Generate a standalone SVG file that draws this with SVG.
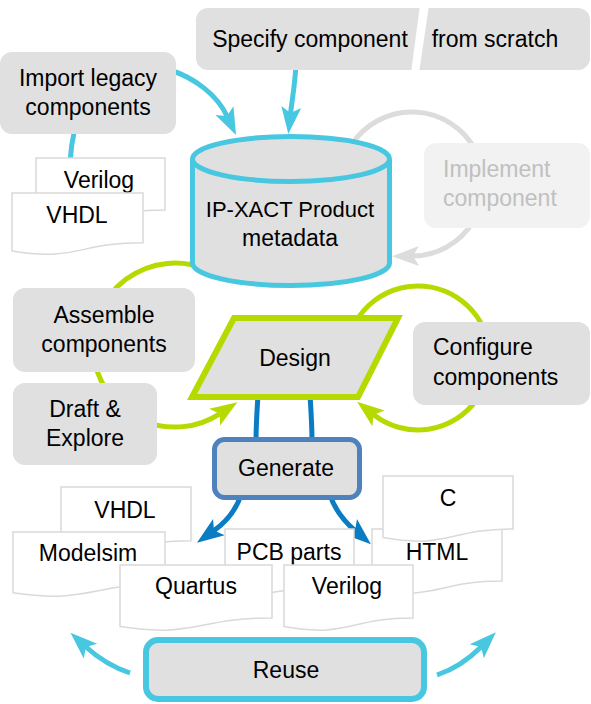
<svg xmlns="http://www.w3.org/2000/svg" width="591" height="704" viewBox="0 0 591 704">
<style>
  text { font-family: "Liberation Sans", Arial, sans-serif; font-size: 23px; fill: #000; }
  .c { text-anchor: middle; }
  .box { fill: #E0E0E0; }
  .doc { fill: #FFFFFF; stroke: #D9D9D9; stroke-width: 1.5; }
  .cyan { fill: none; stroke: #48C7E1; stroke-width: 5; }
  .green { fill: none; stroke: #B5DA00; stroke-width: 5; }
  .gray { fill: none; stroke: #DCDCDC; stroke-width: 5; }
  .blue { fill: none; stroke: #0A7CC3; stroke-width: 5; }
  .faint { fill: #C0C0C0; }
</style>
<defs>
  <marker id="ahCyan" markerUnits="userSpaceOnUse" markerWidth="27" markerHeight="20" refX="6" refY="10" orient="auto" overflow="visible">
    <path d="M0,0 L27,10 L0,20 L6,10 Z" fill="#48C7E1"/>
  </marker>
  <marker id="ahGreen" markerUnits="userSpaceOnUse" markerWidth="27" markerHeight="20" refX="6" refY="10" orient="auto" overflow="visible">
    <path d="M0,0 L27,10 L0,20 L6,10 Z" fill="#B5DA00"/>
  </marker>
  <marker id="ahGray" markerUnits="userSpaceOnUse" markerWidth="27" markerHeight="20" refX="6" refY="10" orient="auto" overflow="visible">
    <path d="M0,0 L27,10 L0,20 L6,10 Z" fill="#DCDCDC"/>
  </marker>
  <marker id="ahBlue" markerUnits="userSpaceOnUse" markerWidth="27" markerHeight="20" refX="6" refY="10" orient="auto" overflow="visible">
    <path d="M0,0 L27,10 L0,20 L6,10 Z" fill="#0A7CC3"/>
  </marker>
</defs>

<g id="connectors">
  <path class="cyan" d="M170,70 C195,78 217,95 227,116" marker-end="url(#ahCyan)"/>
  <path class="cyan" d="M296,64 C295,85 292,100 290.6,113" marker-end="url(#ahCyan)"/>
  <path class="cyan" d="M75,128 Q71,145 70,162"/>
  <path class="gray" d="M352,144 A72,72 0 1 1 413,256" marker-end="url(#ahGray)"/>
  <path class="green" d="M205.7,269 A82,82 0 1 0 219.7,413.8" marker-end="url(#ahGreen)"/>
  <path class="green" d="M355.6,322 A72,72 0 1 1 373.7,414.7" marker-end="url(#ahGreen)"/>
  <path class="blue" d="M258,395 C257,410 256,425 256,442"/>
  <path class="blue" d="M310,395 C311,410 312,425 312,442"/>
  <path class="blue" d="M241,495 C236,510 226,522 214,530.6" marker-end="url(#ahBlue)"/>
  <path class="blue" d="M330,495 C335,510 345,522 355,530.6" marker-end="url(#ahBlue)"/>
  <path class="cyan" d="M130,673 C112,667 97,657 86,647" marker-end="url(#ahCyan)"/>
  <path class="cyan" d="M437,675 C455,669 470,658 481,647" marker-end="url(#ahCyan)"/>
</g>

<g id="specify">
  <rect class="box" x="196" y="8" width="394" height="62" rx="12"/>
  <polygon points="420,5 429,5 419,73 411,73" fill="#FFFFFF"/>
  <text class="c" x="310" y="47">Specify component</text>
  <text class="c" x="495" y="47">from scratch</text>
</g>

<g id="import">
  <rect class="box" x="0" y="52" width="176" height="82" rx="12"/>
  <text class="c" x="88" y="86">Import legacy</text>
  <text class="c" x="88" y="115">components</text>
</g>

<g id="legacy-docs">
  <path class="doc" d="M36,158 H165 V210.1 C100.5,210.1 100.5,230 36,218.7 Z"/>
  <text class="c" x="99" y="188">Verilog</text>
  <path class="doc" d="M12,193 H143 V242.7 C77.5,242.7 77.5,261.7 12,250.9 Z"/>
  <text class="c" x="77" y="223">VHDL</text>
</g>

<g id="metadata">
  <path d="M192.5,159 A98.5,22.5 0 0 1 389.5,159 V263 A98.5,22.5 0 0 1 192.5,263 Z" fill="#E0E0E0" stroke="#48C7E1" stroke-width="5"/>
  <path d="M192.5,159 A98.5,22.5 0 0 0 389.5,159" fill="none" stroke="#48C7E1" stroke-width="5"/>
  <text class="c" x="290" y="217" style="font-size:22px">IP-XACT Product</text>
  <text class="c" x="290" y="246">metadata</text>
</g>

<g id="implement">
  <rect x="424" y="143" width="166" height="85" rx="12" fill="#F2F2F2"/>
  <text class="faint" x="443" y="177">Implement</text>
  <text class="faint" x="443" y="206">component</text>
</g>

<g id="assemble">
  <rect class="box" x="13" y="288" width="182" height="84" rx="12"/>
  <text class="c" x="104" y="323">Assemble</text>
  <text class="c" x="104" y="352">components</text>
</g>

<g id="draft">
  <rect class="box" x="13" y="383" width="144" height="82" rx="12"/>
  <text class="c" x="85" y="417">Draft &amp;</text>
  <text class="c" x="85" y="446">Explore</text>
</g>

<g id="design">
  <polygon points="234,318 398,318 358,397 192,397" fill="#E0E0E0" stroke="#B5DA00" stroke-width="6"/>
  <text class="c" x="295" y="366">Design</text>
</g>

<g id="configure">
  <rect class="box" x="413" y="322" width="177" height="83" rx="12"/>
  <text x="433" y="355">Configure</text>
  <text x="433" y="385">components</text>
</g>

<g id="generate">
  <rect x="214.5" y="439.5" width="145" height="58" rx="10" fill="#E0E0E0" stroke="#4F81BD" stroke-width="5"/>
  <text class="c" x="286" y="476">Generate</text>
</g>

<g id="output-docs">
  <path class="doc" d="M61,487 H191 V540.7 C126,540.7 126,561.2 61,549.6 Z"/>
  <text class="c" x="125" y="518">VHDL</text>
  <path class="doc" d="M13,532 H165 V584.1 C89,584.1 89,604 13,592.7 Z"/>
  <text class="c" x="88" y="561">Modelsim</text>
  <path class="doc" d="M225,529 H354 V581.1 C289.5,581.1 289.5,601 225,589.7 Z"/>
  <text class="c" x="289" y="560">PCB parts</text>
  <path class="doc" d="M372,529 H502 V581.1 C437,581.1 437,601 372,589.7 Z"/>
  <text class="c" x="437" y="560">HTML</text>
  <path class="doc" d="M383,476 H513 V528.9 C448,528.9 448,549.1 383,537.6 Z"/>
  <text class="c" x="448" y="506">C</text>
  <path class="doc" d="M120,565 H272 V617.9 C196,617.9 196,638.1 120,626.6 Z"/>
  <text class="c" x="196" y="594">Quartus</text>
  <path class="doc" d="M284,565 H413 V617.9 C348.5,617.9 348.5,638.1 284,626.6 Z"/>
  <text class="c" x="347" y="594">Verilog</text>
</g>

<g id="reuse">
  <rect x="146" y="640" width="278" height="59" rx="12" fill="#E0E0E0" stroke="#48C7E1" stroke-width="6"/>
  <text class="c" x="286" y="678">Reuse</text>
</g>
</svg>
